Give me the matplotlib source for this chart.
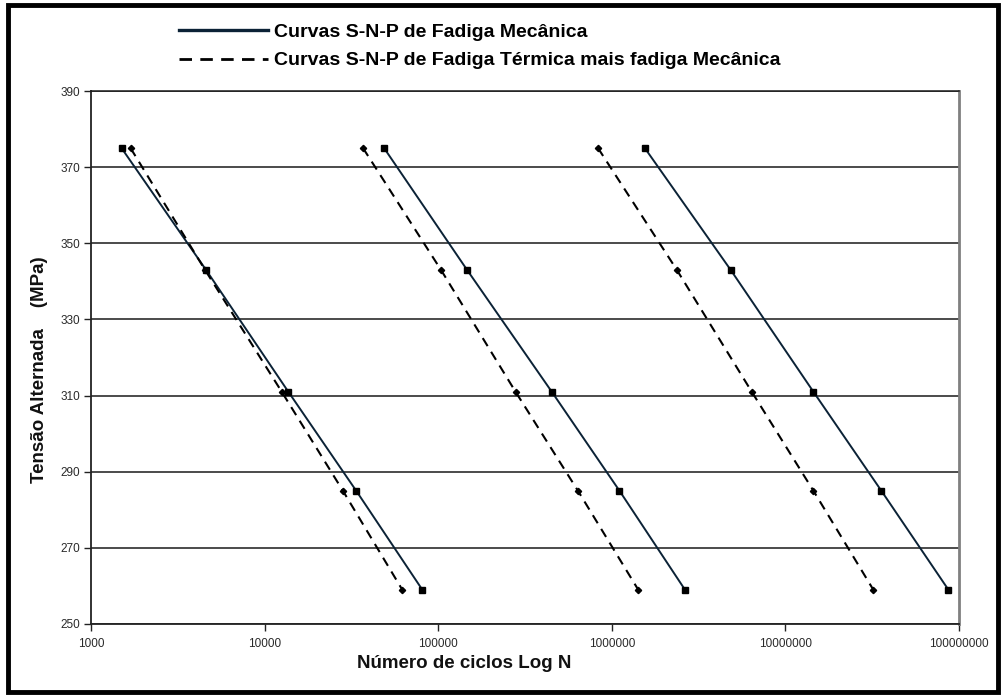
import matplotlib
matplotlib.use("Agg")
import matplotlib.pyplot as plt
from matplotlib.lines import Line2D
from matplotlib.patches import Rectangle
from matplotlib.ticker import FixedLocator, FixedFormatter, NullLocator

# Stress amplitude levels (MPa)
stress = [375, 343, 311, 285, 259]

# Cycles to failure - mechanical fatigue only (three probability curves)
mec_a = [1500, 4600, 13700, 33700, 81000]
mec_b = [48800, 146700, 451000, 1107000, 2640000]
mec_c = [1550000, 4840000, 14500000, 35700000, 86900000]

# Cycles to failure - thermal + mechanical fatigue
term_a = [1690, 4540, 12550, 28250, 62100]
term_b = [36900, 103800, 279000, 638000, 1420000]
term_c = [833000, 2370000, 6400000, 14500000, 32100000]

x_ticks = [1000, 10000, 100000, 1000000, 10000000, 100000000]
x_tick_labels = ["1000", "10000", "100000", "1000000", "10000000", "100000000"]
y_ticks = [250, 270, 290, 310, 330, 350, 370, 390]

label_mec = "Curvas S-N-P de Fadiga Mecânica"
label_term = "Curvas S-N-P de Fadiga Térmica mais fadiga Mecânica"

W, H = 1005, 696
fig = plt.figure(figsize=(W / 100, H / 100), dpi=100)
fig.patch.set_facecolor("white")

ax = fig.add_axes([91 / W, 1 - 624 / H, (959 - 91) / W, (624 - 91) / H])
ax.set_xscale("log")
ax.set_xlim(1000, 100000000)
ax.set_ylim(250, 390)

solid_color = "#0b2236"
dash = (0, (4.5, 3.2))

for n in (mec_a, mec_b, mec_c):
    ax.plot(n, stress, color=solid_color, lw=1.4, marker="s", ms=4.2,
            mfc="black", mec="black", zorder=3)
for n in (term_a, term_b, term_c):
    ax.plot(n, stress, color="black", lw=1.5, linestyle=dash, marker="D",
            ms=3.2, mfc="black", mec="black", zorder=3)

# Axes, ticks and grid
ax.xaxis.set_major_locator(FixedLocator(x_ticks))
ax.xaxis.set_major_formatter(FixedFormatter(x_tick_labels))
ax.xaxis.set_minor_locator(NullLocator())
ax.set_yticks(y_ticks)
ax.tick_params(axis="both", direction="out", length=5, width=1, color="#222222",
               labelcolor="#2a2a2a", pad=3)
ax.tick_params(axis="x", pad=5)
for lbl in ax.get_xticklabels() + ax.get_yticklabels():
    lbl.set_fontfamily("Liberation Sans")
    lbl.set_fontsize(8.5)
ax.yaxis.grid(True, color="#1a1a1a", lw=1.1)
ax.xaxis.grid(False)
ax.set_axisbelow(True)
for side in ("left", "bottom"):
    ax.spines[side].set_color("#222222")
    ax.spines[side].set_linewidth(1.3)
ax.spines["top"].set_color("#1a1a1a")
ax.spines["top"].set_linewidth(1.1)
ax.spines["right"].set_color("#808080")
ax.spines["right"].set_linewidth(2)

# Axis titles
fig.text(464 / W, 1 - 663 / H, "Número de ciclos Log N", ha="center", va="center",
         fontsize=13.5, fontweight="bold", family="Liberation Sans", color="#111111")
fig.text(40 / W, 1 - 370 / H, "Tensão Alternada    (MPa)", ha="center", va="center",
         rotation=90, fontsize=13.5, fontweight="bold", family="Liberation Sans",
         color="#111111")

# Legend above the plotting area
handles = [Line2D([], [], color=solid_color, lw=2.4),
           Line2D([], [], color="black", lw=2.0, linestyle=(0, (4.5, 3.0)))]
leg = fig.legend(handles, [label_mec, label_term], loc="upper left",
                 bbox_to_anchor=(161 / W, 1 - 6 / H), frameon=False,
                 handlelength=4.6, handletextpad=0.3, labelspacing=0.55,
                 prop={"family": "Liberation Sans", "weight": "bold", "size": 14})

# Outer frame around the figure
fig.patches.append(Rectangle((8 / W, 4 / H), (998 - 8) / W, (691 - 4) / H,
                             transform=fig.transFigure, fill=False,
                             edgecolor="black", lw=3.5))

fig.savefig("out.png", dpi=100, facecolor="white")
